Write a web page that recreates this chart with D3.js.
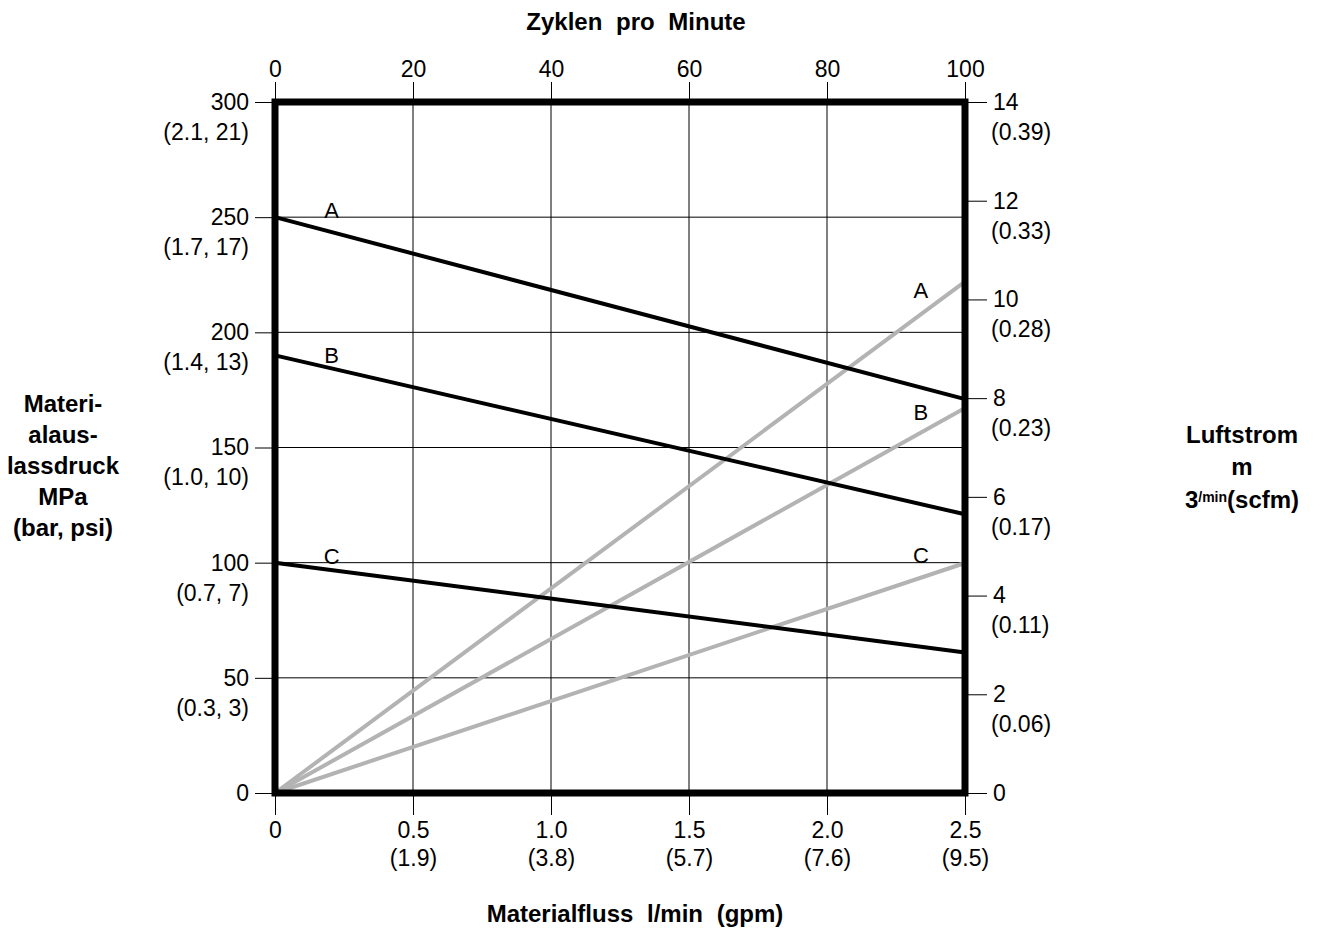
<!DOCTYPE html>
<html>
<head>
<meta charset="utf-8">
<script src="https://cdn.jsdelivr.net/npm/d3@7"></script>
<style>
  html, body { margin: 0; padding: 0; background: #fff; }
  svg text { font-family: "Liberation Sans", Arial, sans-serif; fill: #000; }
</style>
</head>
<body>
<svg id="chart" width="1317" height="932"></svg>
<script>
// ---- data ----
const flowTicks = [0, 0.5, 1.0, 1.5, 2.0, 2.5];
const flowSub = ["", "(1.9)", "(3.8)", "(5.7)", "(7.6)", "(9.5)"];
const cycleTicks = [0, 20, 40, 60, 80, 100];
const pressureTicks = [0, 50, 100, 150, 200, 250, 300];
const pressureSub = ["", "(0.3, 3)", "(0.7, 7)", "(1.0, 10)", "(1.4, 13)", "(1.7, 17)", "(2.1, 21)"];
const airTicks = [0, 2, 4, 6, 8, 10, 12, 14];
const airSub = ["", "(0.06)", "(0.11)", "(0.17)", "(0.23)", "(0.28)", "(0.33)", "(0.39)"];

const seriesNames = ["A", "B", "C"];
const flowEnds = [0, 2.5];
// outlet pressure (left axis) at flow 0 and 2.5
const pressureA = [250, 171];
const pressureB = [190, 121];
const pressureC = [100, 61];
// air flow (right axis) at flow 0 and 2.5
const airA = [0, 10.36];
const airB = [0, 7.8];
const airC = [0, 4.66];

// ---- layout ----
const L = 275, R = 965, T = 102, B = 793;
const svg = d3.select("#chart");

const x = d3.scaleLinear().domain([0, 2.5]).range([L, R]);
const xTop = d3.scaleLinear().domain([0, 100]).range([L, R]);
const yL = d3.scaleLinear().domain([0, 300]).range([B, T]);
const yR = d3.scaleLinear().domain([0, 14]).range([B, T]);

// grid
const grid = svg.append("g");
grid.selectAll("line.v").data(flowTicks.filter(d => d > 0 && d < 2.5)).join("line")
  .attr("x1", d => x(d)).attr("x2", d => x(d)).attr("y1", T).attr("y2", B)
  .attr("stroke", "#000").attr("stroke-width", 1);
grid.selectAll("line.h").data(pressureTicks.filter(d => d > 0 && d < 300)).join("line")
  .attr("x1", L).attr("x2", R).attr("y1", d => yL(d)).attr("y2", d => yL(d))
  .attr("stroke", "#000").attr("stroke-width", 1);

const fontSize = 23;

// axes
const axLeft = svg.append("g").attr("transform", `translate(${L},0)`)
  .call(d3.axisLeft(yL).tickValues(pressureTicks).tickSize(20).tickPadding(6).tickFormat(d3.format("d")));
const axRight = svg.append("g").attr("transform", `translate(${R},0)`)
  .call(d3.axisRight(yR).tickValues(airTicks).tickSize(22).tickPadding(6).tickFormat(d3.format("d")));
const axBottom = svg.append("g").attr("transform", `translate(0,${B})`)
  .call(d3.axisBottom(x).tickValues(flowTicks).tickSize(22).tickPadding(7)
    .tickFormat(d => d === 0 ? "0" : d3.format(".1f")(d)));
const axTop = svg.append("g").attr("transform", `translate(0,${T})`)
  .call(d3.axisTop(xTop).tickValues(cycleTicks).tickSize(20).tickPadding(5).tickFormat(d3.format("d")));

[axLeft, axRight, axBottom, axTop].forEach(ax => {
  ax.select(".domain").remove();
  ax.selectAll(".tick line").attr("stroke", "#000").attr("stroke-width", 1);
  ax.selectAll(".tick text").attr("font-size", fontSize)
    .attr("font-family", '"Liberation Sans", Arial, sans-serif').attr("fill", "#000");
});

// second lines of tick labels
function addSub(ax, values, subs, dx, dyLine) {
  ax.selectAll(".tick").each(function(d) {
    const i = values.indexOf(d);
    const s = subs[i];
    if (!s) return;
    const t = d3.select(this).select("text");
    const xAttr = t.attr("x");
    t.append("tspan").attr("x", +xAttr + dx).attr("dy", dyLine).text(s);
  });
}
function wrapFirst(ax, xv) {
  ax.selectAll(".tick text").each(function() {
    const t = d3.select(this); const txt = t.text(); t.text(null);
    t.append("tspan").attr("x", xv === undefined ? t.attr("x") : xv).text(txt);
  });
}
wrapFirst(axLeft);
addSub(axLeft, pressureTicks, pressureSub, 0, 30);
wrapFirst(axRight);
addSub(axRight, airTicks, airSub, -2, 30);
wrapFirst(axBottom, 0);
addSub(axBottom, flowTicks, flowSub, 0, 28);

// series lines
const line = d3.line();
const blackSeries = [pressureA, pressureB, pressureC];
const graySeries = [airA, airB, airC];
svg.append("g").selectAll("path").data(graySeries).join("path")
  .attr("d", s => line(flowEnds.map((f, i) => [x(f), yR(s[i])])))
  .attr("fill", "none").attr("stroke", "#b3b3b3").attr("stroke-width", 4);
svg.append("g").selectAll("path").data(blackSeries).join("path")
  .attr("d", s => line(flowEnds.map((f, i) => [x(f), yL(s[i])])))
  .attr("fill", "none").attr("stroke", "#000").attr("stroke-width", 4);

// series labels
const blackLabelDy = [1, 8, 1];
const grayLabelDy = [16, 12, 0];
svg.append("g").selectAll("text").data(blackSeries).join("text")
  .attr("x", x(0.205)).attr("y", (s, i) => yL(s[0]) + blackLabelDy[i])
  .attr("text-anchor", "middle").attr("font-size", 22)
  .text((s, i) => seriesNames[i]);
svg.append("g").selectAll("text").data(graySeries).join("text")
  .attr("x", x(2.34)).attr("y", (s, i) => yR(s[1]) + grayLabelDy[i])
  .attr("text-anchor", "middle").attr("font-size", 22)
  .text((s, i) => seriesNames[i]);

// frame
svg.append("rect").attr("x", L).attr("y", T).attr("width", R - L).attr("height", B - T)
  .attr("fill", "none").attr("stroke", "#000").attr("stroke-width", 7);

// titles
const titleSize = 24;
svg.append("text").attr("x", 636).attr("y", 30).attr("text-anchor", "middle")
  .attr("font-size", titleSize).attr("font-weight", "bold").attr("word-spacing", 7)
  .text("Zyklen pro Minute");
svg.append("text").attr("x", 635).attr("y", 922).attr("text-anchor", "middle")
  .attr("font-size", titleSize).attr("font-weight", "bold").attr("word-spacing", 7)
  .text("Materialfluss l/min (gpm)");

const leftTitle = ["Materi-", "alaus-", "lassdruck", "MPa", "(bar, psi)"];
svg.append("text").attr("text-anchor", "middle").attr("font-size", titleSize).attr("font-weight", "bold")
  .selectAll("tspan").data(leftTitle).join("tspan")
  .attr("x", 63).attr("y", (d, i) => 412 + i * 31).text(d => d);

const rt = svg.append("text").attr("text-anchor", "middle").attr("font-size", titleSize).attr("font-weight", "bold");
rt.append("tspan").attr("x", 1242).attr("y", 443).text("Luftstrom");
rt.append("tspan").attr("x", 1242).attr("y", 475).text("m");
const rt3 = svg.append("text").attr("text-anchor", "middle").attr("font-size", titleSize).attr("font-weight", "bold")
  .attr("x", 1242).attr("y", 508);
rt3.append("tspan").text("3");
rt3.append("tspan").attr("font-size", 14).attr("dy", -6).text("/min");
rt3.append("tspan").attr("dy", 6).text("(scfm)");
</script>
</body>
</html>
